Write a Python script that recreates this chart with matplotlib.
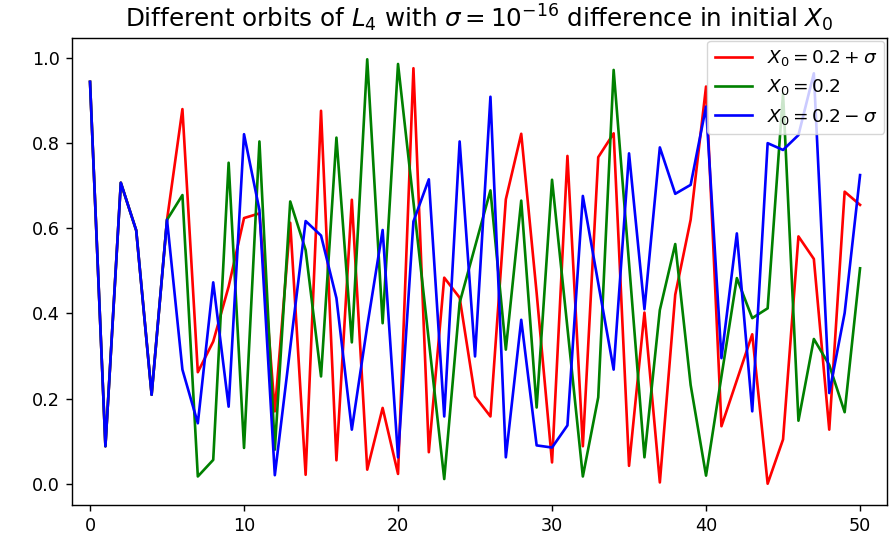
import numpy as np
import matplotlib
matplotlib.use('Agg')
import matplotlib.pyplot as plt

# 迭代步数
steps = list(range(51))

# X0 = 0.2 + sigma
orbit_plus = [0.944, 0.088, 0.707, 0.595, 0.209, 0.620, 0.880, 0.262, 0.334, 0.463,
              0.624, 0.635, 0.170, 0.613, 0.021, 0.876, 0.055, 0.667, 0.033, 0.178,
              0.023, 0.976, 0.074, 0.484, 0.437, 0.205, 0.158, 0.668, 0.822, 0.448,
              0.050, 0.770, 0.088, 0.767, 0.823, 0.042, 0.402, 0.003, 0.444, 0.620,
              0.933, 0.135, 0.243, 0.351, 0.000, 0.104, 0.581, 0.528, 0.127, 0.686,
              0.655]

# X0 = 0.2
orbit_mid = [0.944, 0.088, 0.707, 0.595, 0.209, 0.620, 0.678, 0.017, 0.056, 0.754,
             0.084, 0.804, 0.080, 0.663, 0.549, 0.252, 0.813, 0.332, 0.997, 0.377,
             0.986, 0.662, 0.336, 0.011, 0.425, 0.557, 0.689, 0.315, 0.665, 0.179,
             0.714, 0.366, 0.017, 0.203, 0.972, 0.518, 0.062, 0.408, 0.563, 0.232,
             0.019, 0.252, 0.483, 0.389, 0.412, 0.917, 0.148, 0.340, 0.279, 0.168,
             0.506]

# X0 = 0.2 - sigma
orbit_minus = [0.944, 0.088, 0.707, 0.595, 0.209, 0.620, 0.268, 0.142, 0.473, 0.181,
               0.821, 0.643, 0.020, 0.319, 0.617, 0.583, 0.436, 0.127, 0.370, 0.596,
               0.062, 0.616, 0.715, 0.158, 0.804, 0.299, 0.909, 0.062, 0.385, 0.090,
               0.085, 0.137, 0.676, 0.471, 0.268, 0.776, 0.410, 0.790, 0.681, 0.702,
               0.886, 0.295, 0.588, 0.170, 0.800, 0.784, 0.819, 0.964, 0.213, 0.401,
               0.725]

# 原图大约是按 1.27 倍放大的默认样式
s = 1.27
plt.rcParams['axes.linewidth'] = 0.8 * s
plt.rcParams['xtick.major.size'] = 3.5 * s
plt.rcParams['ytick.major.size'] = 3.5 * s
plt.rcParams['xtick.major.width'] = 0.8 * s
plt.rcParams['ytick.major.width'] = 0.8 * s
plt.rcParams['xtick.major.pad'] = 3.5 * s
plt.rcParams['ytick.major.pad'] = 3.5 * s

W, H = 889, 536
fig = plt.figure(figsize=(W / 100, H / 100), dpi=100)
# 坐标轴位置（像素换算）
left, right, top, bottom = 72, 887, 38, 505
ax = fig.add_axes([left / W, 1 - bottom / H, (right - left) / W, (bottom - top) / H])

ax.plot(steps, orbit_plus, color='red', linewidth=1.5 * s, label=r'$X_0 = 0.2 + \sigma$')
ax.plot(steps, orbit_mid, color='green', linewidth=1.5 * s, label=r'$X_0 = 0.2$')
ax.plot(steps, orbit_minus, color='blue', linewidth=1.5 * s, label=r'$X_0 = 0.2 - \sigma$')

ax.set_xlim(-1.17, 51.75)
ax.set_ylim(-0.05, 1.047)
ax.set_xticks([0, 10, 20, 30, 40, 50])
ax.set_yticks([0.0, 0.2, 0.4, 0.6, 0.8, 1.0])
ax.tick_params(labelsize=10 * s)

ax.set_title(r'Different orbits of $L_4$ with $\sigma = 10^{-16}$ difference in initial $X_0$',
             fontsize=14 * s, pad=6 * s)
ax.legend(loc='upper right', fontsize=13.3, borderaxespad=0.15)

fig.savefig('out.png', dpi=100)
